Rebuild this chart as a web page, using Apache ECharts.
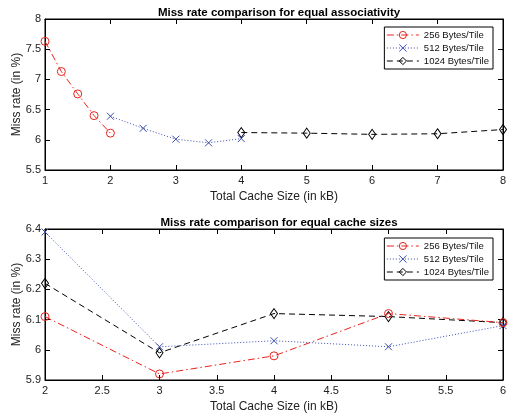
<!DOCTYPE html>
<html><head><meta charset="utf-8">
<script src="https://cdn.jsdelivr.net/npm/echarts@6/dist/echarts.min.js"></script>
<style>html,body{margin:0;padding:0;background:#fff}#c{width:512px;height:415px}</style>
</head><body><div id="c"></div>
<script>
var seriesNames = ['256 Bytes/Tile', '512 Bytes/Tile', '1024 Bytes/Tile'];
// Top chart: equal associativity
var topX256 = [1, 1.25, 1.5, 1.75, 2];
var topY256 = [7.63, 7.13, 6.76, 6.40, 6.11];
var topX512 = [2, 2.5, 3, 3.5, 4];
var topY512 = [6.39, 6.19, 6.01, 5.95, 6.02];
var topX1024 = [4, 5, 6, 7, 8];
var topY1024 = [6.12, 6.11, 6.09, 6.10, 6.17];
// Bottom chart: equal cache sizes
var botX = [2, 3, 4, 5, 6];
var botY256 = [6.11, 5.92, 5.98, 6.12, 6.09];
var botY512 = [6.39, 6.01, 6.03, 6.01, 6.08];
var botY1024 = [6.22, 5.99, 6.12, 6.11, 6.09];
var titles = ['Miss rate comparison for equal associativity', 'Miss rate comparison for equal cache sizes'];

function zip(a, b) { return a.map(function (v, i) { return [v, b[i]]; }); }

var FONT = 'Liberation Sans';
var RED = '#e8231c', BLUE = '#3a4cb0', BLACK = '#000';
var XSYM = 'path://M0,0 L10,10 M10,0 L0,10';
var CLEAR = 'rgba(0,0,0,0)';

function styleFor(i) {
  if (i === 0) return { color: RED, type: [7, 3, 1.5, 3], symbol: 'circle', size: 8 };
  if (i === 1) return { color: BLUE, type: [1, 2], symbol: XSYM, size: 7 };
  return { color: BLACK, type: [6, 4], symbol: 'diamond', size: [7, 10] };
}

function mkSeries(i, data, g) {
  var s = styleFor(i);
  return {
    type: 'line', name: seriesNames[i], xAxisIndex: g * 2, yAxisIndex: g * 2,
    data: data, symbol: s.symbol, symbolSize: s.size, showAllSymbol: true,
    lineStyle: { color: s.color, width: 1, type: s.type },
    itemStyle: { color: CLEAR, borderColor: s.color, borderWidth: 1 },
    emphasis: { disabled: true }, animation: false, z: 3 - i + 2
  };
}

var grids = [
  { left: 45, right: 9, top: 19, height: 151, show: true, borderColor: '#000', borderWidth: 1, outerBoundsMode: 'none', containLabel: false },
  { left: 45, right: 9, top: 229, height: 151, show: true, borderColor: '#000', borderWidth: 1, outerBoundsMode: 'none', containLabel: false }
];

function xAxes(g, min, max, interval) {
  var base = {
    type: 'value', gridIndex: g, min: min, max: max, interval: interval,
    splitLine: { show: false },
    axisLine: { show: true, lineStyle: { color: '#000' } },
    axisTick: { inside: true, length: 5, lineStyle: { color: '#000' } }
  };
  var a = Object.assign({}, base, {
    position: 'bottom',
    axisLabel: { color: '#222', fontFamily: FONT, fontSize: 11, margin: 5 },
    name: 'Total Cache Size (in kB)', nameLocation: 'middle', nameGap: 21, nameMoveOverlap: false,
    nameTextStyle: { color: '#222', fontFamily: FONT, fontSize: 12 }
  });
  var b = Object.assign({}, base, { position: 'top', axisLabel: { show: false } });
  return [a, b];
}
function yAxes(g, min, max, interval, fmt) {
  var base = {
    type: 'value', gridIndex: g, min: min, max: max, interval: interval,
    splitLine: { show: false },
    axisLine: { show: true, lineStyle: { color: '#000' } },
    axisTick: { inside: true, length: 5, lineStyle: { color: '#000' } }
  };
  var a = Object.assign({}, base, {
    position: 'left',
    axisLabel: { color: '#222', fontFamily: FONT, fontSize: 11, margin: 4, formatter: fmt },
    name: 'Miss rate (in %)', nameLocation: 'middle', nameGap: 22, nameRotate: 90, nameMoveOverlap: false,
    nameTextStyle: { color: '#222', fontFamily: FONT, fontSize: 12 }
  });
  var b = Object.assign({}, base, { position: 'right', axisLabel: { show: false } });
  return [a, b];
}

var fmt = function (v) { return String(Math.round(v * 100) / 100); };

var legendBase = {
  orient: 'vertical', right: 19, data: seriesNames,
  backgroundColor: '#fff', borderColor: '#000', borderWidth: 1,
  padding: [3, 4, 3, 2], itemGap: 3, itemWidth: 32, itemHeight: 9,
  itemStyle: { borderWidth: 1 }, lineStyle: { width: 1 },
  textStyle: { fontFamily: FONT, fontSize: 9.5, color: '#111' }
};

var option = {
  animation: false,
  title: [
    { text: titles[0], left: 274, top: 2, textAlign: 'center', textStyle: { fontFamily: FONT, fontSize: 11.5, fontWeight: 'bold', color: '#000' } },
    { text: titles[1], left: 274, top: 212, textAlign: 'center', textStyle: { fontFamily: FONT, fontSize: 11.5, fontWeight: 'bold', color: '#000' } }
  ],
  grid: grids,
  xAxis: xAxes(0, 1, 8, 1).concat(xAxes(1, 2, 6, 0.5)),
  yAxis: yAxes(0, 5.5, 8, 0.5, fmt).concat(yAxes(1, 5.9, 6.4, 0.1, fmt)),
  legend: [
    Object.assign({}, legendBase, { top: 27 }),
    Object.assign({}, legendBase, { top: 238 })
  ],
  series: [
    mkSeries(0, zip(topX256, topY256), 0),
    mkSeries(1, zip(topX512, topY512), 0),
    mkSeries(2, zip(topX1024, topY1024), 0),
    mkSeries(0, zip(botX, botY256), 1),
    mkSeries(1, zip(botX, botY512), 1),
    mkSeries(2, zip(botX, botY1024), 1)
  ]
};
var chart = echarts.init(document.getElementById('c'), null, { renderer: 'canvas' });
chart.setOption(option);
</script></body></html>
